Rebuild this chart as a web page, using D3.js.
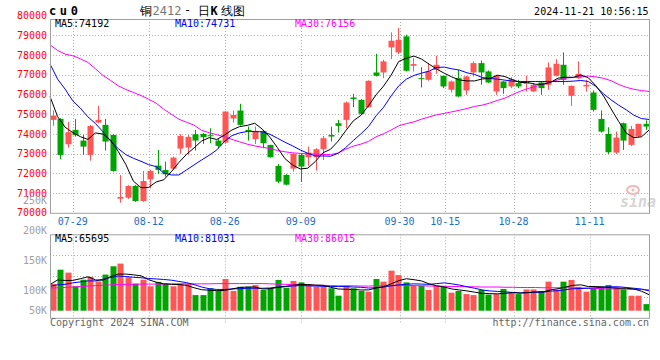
<!DOCTYPE html>
<html><head><meta charset="utf-8">
<script src="https://cdn.jsdelivr.net/npm/d3@7"></script>
<style>
html,body{margin:0;padding:0;background:#fff;}
svg{display:block;}
text{font-family:"DejaVu Sans Mono","Liberation Mono",monospace;}
</style></head>
<body>
<svg id="c" width="660" height="360"></svg>
<script>
const dates = ["07-24","07-25","07-26","07-29","07-30","07-31","08-01","08-02","08-05","08-06","08-07","08-08","08-09","08-12","08-13","08-14","08-15","08-16","08-19","08-20","08-21","08-22","08-23","08-26","08-27","08-28","08-29","08-30","09-02","09-03","09-04","09-05","09-06","09-09","09-10","09-11","09-12","09-13","09-18","09-19","09-20","09-23","09-24","09-25","09-26","09-27","09-30","10-08","10-09","10-10","10-11","10-14","10-15","10-16","10-17","10-18","10-21","10-22","10-23","10-24","10-25","10-28","10-29","10-30","10-31","11-01","11-04","11-05","11-06","11-07","11-08","11-11","11-12","11-13","11-14","11-15","11-18","11-19","11-20","11-21"];
const dateTicks = ["07-29","08-12","08-26","09-09","09-30","10-15","10-28","11-11"];

const open = [74712,74763,73475,74204,73661,72932,74577,74458,73949,70712,70763,71356,70593,71695,72390,72170,72237,73254,73305,73983,74000,73932,73661,73560,74780,75187,74204,73729,74153,73441,72373,71915,72237,72932,72814,72814,73221,73949,74543,74712,75848,75729,75356,77119,77119,78390,78136,78950,77458,76831,76746,77255,76950,76238,76831,76204,77119,77594,77170,76153,76661,76407,76576,76560,76153,76610,76492,76950,77509,75933,76831,76407,76102,74763,74000,73051,74543,73441,73865,74509];
const high = [75187,74800,74610,74763,73949,74458,75424,74763,74000,71915,71400,71400,72119,72170,73187,72593,72850,73983,73949,74204,74034,74288,73780,75150,75187,75526,74373,74373,74204,73450,72475,71966,73017,72983,73356,73271,73898,74373,74712,75644,76034,75763,76720,78068,77763,79153,79373,79034,77848,77390,77594,77967,76960,76712,77255,76950,77678,77729,77220,77000,76680,76882,76746,76950,76576,76661,77628,77797,78136,76460,77678,76746,76204,75187,74339,74119,74577,74407,74520,74678];
const low = [74407,72712,73305,73865,72932,72644,74543,73153,72085,70508,70700,70550,70550,71237,71966,71831,72170,72983,72932,73153,73492,73526,73271,73500,74577,74420,73661,73492,73271,72800,71492,71400,72085,71559,72373,72136,72678,73610,74068,74288,75356,74980,75330,76915,76831,77797,78051,77170,77170,76356,76700,77051,76322,76102,75880,75983,76915,76492,76576,75983,76034,76322,76322,76153,76130,75983,76238,76915,76492,75424,76780,76153,75136,74068,72983,72983,73187,73390,73831,74204];
const close = [74932,72932,74085,73932,73356,74407,74712,73610,72119,70797,71356,70593,71610,72119,72170,71949,72797,73898,73848,73661,73831,73882,73390,75136,74966,74458,74119,74153,73526,72814,71576,71424,72983,72339,73051,73221,73780,73865,74407,75594,75763,75017,76695,76950,77678,78729,78780,77204,77543,76780,77170,77509,76407,76661,75899,76915,77594,77119,76610,76950,76322,76780,76407,76590,76492,76322,77373,77560,76746,76441,77051,76492,75221,74119,73068,73814,73661,74254,74509,74373];

const ma5 = [75900,74880,74339,74068,73860,73720,74050,73990,73680,73110,72450,71600,71270,71280,71560,71670,72080,72550,72960,73290,73640,73810,73715,73940,74200,74370,74430,74540,74240,73830,73300,72740,72420,72220,72260,72600,73040,73220,73630,74160,74660,74940,75430,75980,76430,76990,77680,77840,77950,77800,77540,77290,77080,76890,76740,76690,76690,76790,76810,76980,76910,76750,76610,76610,76520,76520,76610,76830,76880,76870,76990,76850,76440,75930,75270,74630,74040,73810,73850,74192];
const ma10 = [77550,76780,76271,75678,75305,74865,74526,74102,73627,73254,72949,72763,72610,72440,72339,72017,71915,71915,72170,72424,72678,72915,73187,73610,73915,74051,74119,74119,74102,73983,73780,73576,73390,73187,73017,72882,72882,72865,73017,73305,73661,74000,74373,74916,75356,75932,76441,76780,76966,77085,77187,77373,77390,77305,77238,77102,77017,76865,76814,76780,76729,76678,76661,76661,76661,76661,76661,76661,76661,76678,76712,76661,76407,76034,75729,75458,75221,74950,74780,74731];
const ma30 = [78520,78238,78051,77966,77814,77627,77305,76966,76712,76441,76255,76102,75949,75763,75560,75255,75000,74746,74593,74441,74180,74060,73960,73850,73720,73600,73480,73390,73320,73260,73160,73090,73040,73010,72990,72975,72960,72950,73030,73220,73380,73480,73620,73850,74010,74200,74410,74520,74610,74750,74860,74970,75040,75120,75200,75290,75395,75460,75565,75700,75815,76000,76160,76300,76400,76520,76630,76745,76835,76865,76900,76935,76895,76820,76700,76510,76365,76265,76200,76156];

const volume = [110000,168000,156000,100000,127000,139000,120000,148000,182000,193000,137000,111000,127000,100000,118000,111000,100000,111000,111000,64000,64000,92000,81000,130000,81000,98000,98000,105000,85000,92000,126000,94000,122000,116000,108000,98000,98000,92000,61500,102500,92000,81000,78000,130000,119000,164000,146000,116000,102500,102500,85000,102500,98000,74000,81000,68000,64000,85000,66000,68000,89000,74000,68000,87000,87000,81000,119000,86000,119000,126000,98000,78000,89000,98000,105000,96000,87000,61500,61500,27000];
const volMa5 = [107000,126000,124000,124000,131000,139000,126000,125000,140000,150000,150000,147000,143000,127000,117000,110000,108000,107000,104000,94000,86000,84000,82000,83000,89000,95000,97000,97000,89000,90000,95000,99000,104000,108000,107000,105000,104000,96000,89000,88000,87000,85000,85000,93000,98000,110000,123000,131000,127000,122000,110000,102000,97000,89000,85000,81000,76000,71000,70000,69000,71000,74000,72000,74000,77000,77000,85000,90000,97000,104000,106000,99000,99000,97000,94000,92000,92000,89000,80000,65695];
const volMa10 = [100000,106000,108000,114000,118000,122000,122000,129000,136000,142000,140000,137000,135000,132000,130000,128000,125000,120000,115000,107000,97000,90000,87000,87000,89000,90000,92000,92000,92000,93000,97000,99000,101000,103000,102000,101000,100000,99000,99000,99000,97000,96000,93000,94000,97000,102000,106000,108000,110000,109000,108000,111000,114000,110000,105000,98000,92000,85000,81000,79000,77000,75000,73000,74000,75000,76000,80000,82000,86000,90000,91000,92000,94000,97000,98000,98000,95000,92000,89000,81031];
const volMa30 = [93000,94000,95000,97000,99000,101000,103000,104000,106000,107000,108000,108000,109000,109000,109000,109000,110000,110000,110000,110000,110000,110000,111000,111000,111000,111000,111000,111000,111000,110000,109000,108000,107000,106000,105000,104000,104000,103000,102000,102000,102000,101000,101000,102000,102000,103000,103000,103000,103000,102000,101000,101000,100000,99000,99000,98000,98000,97000,97000,97000,96000,96000,95000,95000,95000,94000,94000,94000,94000,94000,93000,92000,91000,90000,89000,89000,88000,87000,86500,86015];

const priceTicks = [80000,79000,78000,77000,76000,75000,74000,73000,72000,71000,70000];
const volTickLabels = [250000,200000,150000,100000,50000];
const priceLegend = [["MA5:74192","#000000"],["MA10:74731","#0000ff"],["MA30:76156","#ff00ff"]];
const volLegend = [["MA5:65695","#000000"],["MA10:81031","#0000ff"],["MA30:86015","#ff00ff"]];

const UP = "#ff5555", DOWN = "#00a400", GRID = "#b0b0b0", FRAME = "#a0a0a0";
const svg = d3.select("#c");

// scales
const L = 50, R = 649;
const PT = 19, PB = 213.3, VT = 234.3, VB = 318.3;
const x = d3.scaleLinear().domain([0, dates.length - 1]).range([52.7, 646]);   // candles & bars
const lx = d3.scaleLinear().domain([0, dates.length - 1]).range([L, R]);       // average lines span the frame
const gx = d3.scaleLinear().domain([0, dates.length]).range([50, 658]);        // date grid
const y = d3.scaleLinear().domain([70000, 80000]).range([212.7, 15.7]);
const vy = d3.scaleLinear().domain([0, 313000]).range([310.7, 234.3]);
const vLab = d3.scaleLinear().domain([100000, 250000]).range([290.7, 200.5]);

const dash = "1,2";
svg.append("g").selectAll("line").data(priceTicks.filter(v => v > 70000 && v < 80000)).join("line")
  .attr("x1", L).attr("x2", R).attr("y1", d => Math.round(y(d)) + 0.5).attr("y2", d => Math.round(y(d)) + 0.5)
  .attr("stroke", GRID).attr("stroke-dasharray", dash);
const tickIdx = dateTicks.map(d => dates.indexOf(d));
svg.append("g").selectAll("line").data(tickIdx).join("line")
  .attr("x1", d => Math.round(gx(d)) + 0.5).attr("x2", d => Math.round(gx(d)) + 0.5)
  .attr("y1", PT).attr("y2", PB).attr("stroke", GRID).attr("stroke-dasharray", dash);
svg.append("g").selectAll("line").data(tickIdx).join("line")
  .attr("x1", d => Math.round(gx(d)) + 0.5).attr("x2", d => Math.round(gx(d)) + 0.5)
  .attr("y1", VT).attr("y2", VB + 4).attr("stroke", GRID).attr("stroke-dasharray", dash);
svg.append("g").selectAll("line").data([1, 2, 3]).join("line")
  .attr("x1", L).attr("x2", R)
  .attr("y1", d => Math.round(VT + d * (VB - VT) / 4) + 0.5).attr("y2", d => Math.round(VT + d * (VB - VT) / 4) + 0.5)
  .attr("stroke", GRID).attr("stroke-dasharray", dash);

// sina watermark
const wm = svg.append("g");
wm.append("ellipse").attr("cx", 633).attr("cy", 190).attr("rx", 6).attr("ry", 4).attr("fill", "none").attr("stroke", "#f2b8b8").attr("stroke-width", 2);
wm.append("circle").attr("cx", 633).attr("cy", 190).attr("r", 1.6).attr("fill", "#f2b8b8");
wm.append("text").attr("x", 620).attr("y", 207).attr("font-family", "DejaVu Sans").attr("font-style", "italic").attr("font-weight", "bold")
  .attr("font-size", 15).attr("fill", "#d6d6d6").text("sina");

// candles
const idx = d3.range(dates.length);
const cg = svg.append("g");
cg.selectAll("line").data(idx).join("line")
  .attr("x1", i => Math.round(x(i)) + 0.5).attr("x2", i => Math.round(x(i)) + 0.5)
  .attr("y1", i => y(high[i])).attr("y2", i => y(low[i]))
  .attr("stroke", i => close[i] >= open[i] ? UP : DOWN);
cg.selectAll("rect").data(idx).join("rect")
  .attr("x", i => Math.round(x(i)) - 2.5).attr("width", 6)
  .attr("y", i => y(Math.max(open[i], close[i])))
  .attr("height", i => Math.max(1, Math.abs(y(open[i]) - y(close[i]))))
  .attr("fill", i => close[i] >= open[i] ? UP : DOWN);

const line = d3.line().x((d, i) => lx(i)).y(d => y(d));
[[ma30, "#ff00ff"], [ma10, "#0000ff"], [ma5, "#000000"]].forEach(([arr, col]) => {
  svg.append("path").attr("d", line(arr)).attr("fill", "none").attr("stroke", col).attr("stroke-width", 1);
});

// volume bars
svg.append("g").selectAll("rect").data(idx).join("rect")
  .attr("x", i => Math.round(x(i)) - 2.5).attr("width", 6)
  .attr("y", i => vy(volume[i])).attr("height", i => vy(0) - vy(volume[i]))
  .attr("fill", i => close[i] >= open[i] ? UP : DOWN);
const vline = d3.line().x((d, i) => lx(i)).y(d => vy(d));
[[volMa30, "#ff00ff"], [volMa10, "#0000ff"], [volMa5, "#000000"]].forEach(([arr, col]) => {
  svg.append("path").attr("d", vline(arr)).attr("fill", "none").attr("stroke", col).attr("stroke-width", 1);
});

// frames
svg.append("rect").attr("x", L + 0.5).attr("y", PT + 0.5).attr("width", R - L).attr("height", PB - PT - 0.5)
  .attr("fill", "none").attr("stroke", FRAME);
svg.append("rect").attr("x", L + 0.5).attr("y", VT + 0.5).attr("width", R - L).attr("height", VB - VT - 0.5)
  .attr("fill", "none").attr("stroke", FRAME);

// axis labels
svg.append("g").selectAll("text").data(priceTicks).join("text")
  .attr("x", 47).attr("y", d => y(d) + 3.6).attr("text-anchor", "end")
  .attr("font-size", 10).attr("fill", "#ff0000").text(d => d);
svg.append("g").selectAll("text").data(volTickLabels).join("text")
  .attr("x", 47).attr("y", d => Math.min(vLab(d), vy(0)) + 3.6).attr("text-anchor", "end")
  .attr("font-size", 10).attr("fill", "#a0a0a0").text(d => (d / 1000) + "K");
svg.append("g").selectAll("text").data(tickIdx).join("text")
  .attr("x", d => gx(d)).attr("y", 224.5).attr("text-anchor", "middle")
  .attr("font-size", 10).attr("fill", "#1a70c8").text(d => dates[d]);

// legends
const legX = [55, 175, 295];
svg.append("g").selectAll("text").data(priceLegend).join("text")
  .attr("x", (d, i) => legX[i]).attr("y", 27).attr("font-size", 10).attr("fill", d => d[1]).text(d => d[0]);
svg.append("g").selectAll("text").data(volLegend).join("text")
  .attr("x", (d, i) => legX[i]).attr("y", 241.5).attr("font-size", 10).attr("fill", d => d[1]).text(d => d[0]);

// header
svg.append("text").attr("x", 49).attr("y", 15).attr("font-size", 12).attr("font-weight", "bold")
  .attr("letter-spacing", 3.6).attr("fill", "#000").text("cu0");
const cjk = '"Noto Sans CJK SC", sans-serif';
svg.append("text").attr("x", 140).attr("y", 15).attr("font-size", 12).attr("font-family", cjk).text("铜");
svg.append("text").attr("x", 152.5).attr("y", 15).attr("font-size", 12).attr("font-family", '"Liberation Serif", serif').attr("fill", "#777").text("2412");
svg.append("text").attr("x", 184).attr("y", 14).attr("font-size", 12).attr("font-family", cjk).text("-");
svg.append("text").attr("x", 198).attr("y", 15).attr("font-size", 12).attr("font-family", cjk).text("日");
svg.append("text").attr("x", 210.5).attr("y", 15).attr("font-size", 12).attr("font-weight", "bold").attr("font-family", '"Liberation Serif", serif').text("K");
svg.append("text").attr("x", 221).attr("y", 15).attr("font-size", 12).attr("font-family", cjk).text("线图");
svg.append("text").attr("x", 648.5).attr("y", 15).attr("text-anchor", "end").attr("font-size", 10).attr("fill", "#000").text("2024-11-21 10:56:15");

// footer
svg.append("text").attr("x", 50).attr("y", 326).attr("font-size", 10).attr("fill", "#666").text("Copyright 2024 SINA.COM");
svg.append("text").attr("x", 649).attr("y", 326).attr("text-anchor", "end").attr("font-size", 10).attr("fill", "#666").text("http://finance.sina.com.cn");
</script>
</body></html>
